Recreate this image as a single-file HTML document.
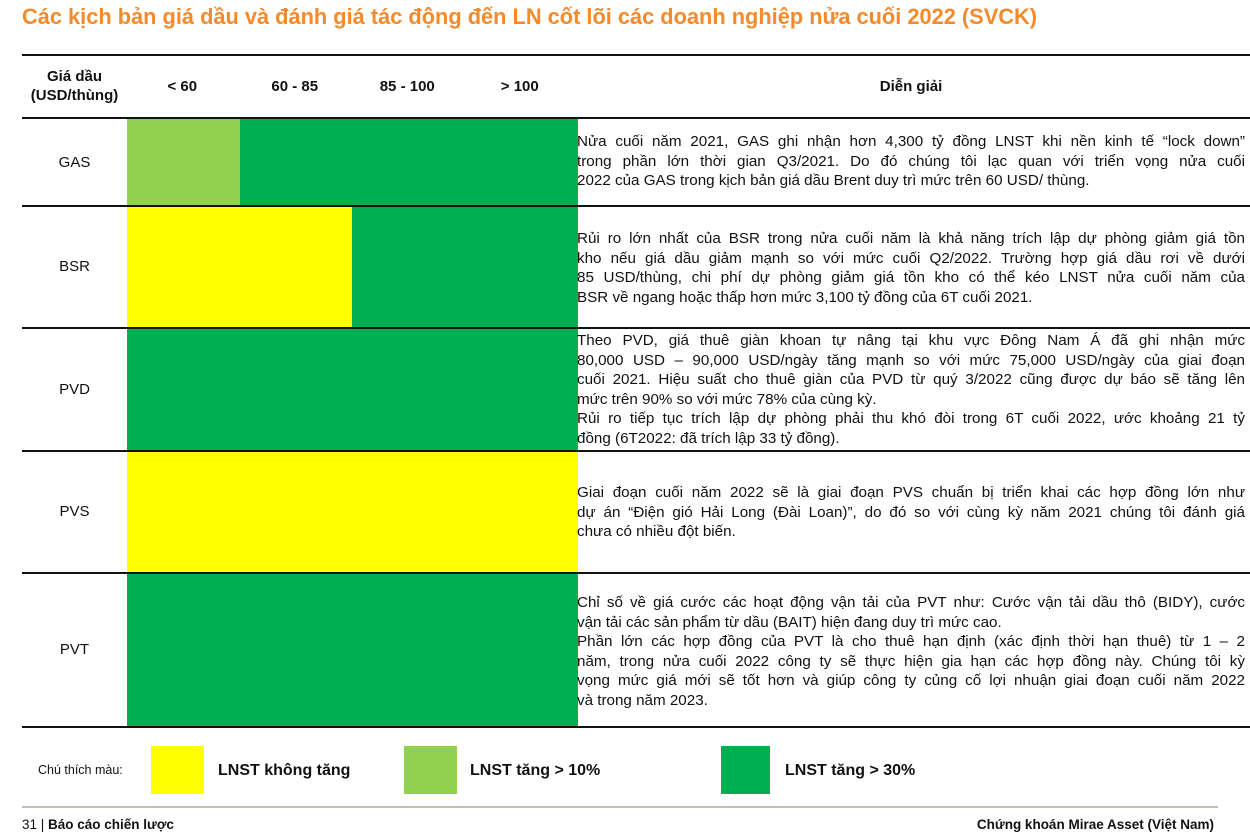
<!DOCTYPE html>
<html><head><meta charset="utf-8">
<style>
body{margin:0;width:1250px;height:826px;background:#fff;position:relative;overflow:hidden;font-family:"Liberation Sans",sans-serif;color:#111}
.abs{position:absolute}
.title{left:22px;top:4px;font-size:21.8px;font-weight:bold;color:#f58a2c;white-space:nowrap}
.hl{position:absolute;left:22px;width:1228px;background:#111}
.hdr{position:absolute;font-weight:bold;font-size:15px;text-align:center;line-height:19px}
.lbl{position:absolute;left:22px;width:105px;text-align:center;font-size:15px}
.desc{position:absolute;left:577px;width:668px;font-size:15.2px;line-height:19.5px}
.desc div{text-align:justify;text-align-last:justify;white-space:nowrap;overflow:visible}
.desc div.l{text-align-last:left}
.cell{position:absolute}
.leg{position:absolute;font-weight:bold;font-size:16px}
</style></head><body>
<div class="abs title">Các kịch bản giá dầu và đánh giá tác động đến LN cốt lõi các doanh nghiệp nửa cuối 2022 (SVCK)</div>

<div id="cells"></div>

<div class="hl" style="top:54px;height:2px"></div>
<div class="hl" style="top:117px;height:2px"></div>
<div class="hl" style="top:205px;height:1.5px"></div>
<div class="hl" style="top:327px;height:1.5px"></div>
<div class="hl" style="top:450px;height:1.5px"></div>
<div class="hl" style="top:572px;height:1.5px"></div>
<div class="hl" style="top:726px;height:2px"></div>

<div class="hdr" style="left:22px;width:105px;top:67px">Giá dầu<br>(USD/thùng)</div>
<div id="colhdrs"></div>
<div class="hdr" style="left:577px;width:668px;top:77px">Diễn giải</div>

<div id="rowlbls"></div>

<div class="desc" style="top:132px">
<div>Nửa cuối năm 2021, GAS ghi nhận hơn 4,300 tỷ đồng LNST khi nền kinh tế “lock down”</div>
<div>trong phần lớn thời gian Q3/2021. Do đó chúng tôi lạc quan với triển vọng nửa cuối</div>
<div class="l">2022 của GAS trong kịch bản giá dầu Brent duy trì mức trên 60 USD/ thùng.</div>
</div>
<div class="desc" style="top:229px">
<div>Rủi ro lớn nhất của BSR trong nửa cuối năm là khả năng trích lập dự phòng giảm giá tồn</div>
<div>kho nếu giá dầu giảm mạnh so với mức cuối Q2/2022. Trường hợp giá dầu rơi về dưới</div>
<div>85 USD/thùng, chi phí dự phòng giảm giá tồn kho có thể kéo LNST nửa cuối năm của</div>
<div class="l">BSR về ngang hoặc thấp hơn mức 3,100 tỷ đồng của 6T cuối 2021.</div>
</div>
<div class="desc" style="top:331px">
<div>Theo PVD, giá thuê giàn khoan tự nâng tại khu vực Đông Nam Á đã ghi nhận mức</div>
<div>80,000 USD – 90,000 USD/ngày tăng mạnh so với mức 75,000 USD/ngày của giai đoạn</div>
<div>cuối 2021. Hiệu suất cho thuê giàn của PVD từ quý 3/2022 cũng được dự báo sẽ tăng lên</div>
<div class="l">mức trên 90% so với mức 78% của cùng kỳ.</div>
<div>Rủi ro tiếp tục trích lập dự phòng phải thu khó đòi trong 6T cuối 2022, ước khoảng 21 tỷ</div>
<div class="l">đồng (6T2022: đã trích lập 33 tỷ đồng).</div>
</div>
<div class="desc" style="top:483px">
<div>Giai đoạn cuối năm 2022 sẽ là giai đoạn PVS chuẩn bị triển khai các hợp đồng lớn như</div>
<div>dự án “Điện gió Hải Long (Đài Loan)”, do đó so với cùng kỳ năm 2021 chúng tôi đánh giá</div>
<div class="l">chưa có nhiều đột biến.</div>
</div>
<div class="desc" style="top:593px">
<div>Chỉ số về giá cước các hoạt động vận tải của PVT như: Cước vận tải dầu thô (BIDY), cước</div>
<div class="l">vận tải các sản phẩm từ dầu (BAIT) hiện đang duy trì mức cao.</div>
<div>Phần lớn các hợp đồng của PVT là cho thuê hạn định (xác định thời hạn thuê) từ 1 – 2</div>
<div>năm, trong nửa cuối 2022 công ty sẽ thực hiện gia hạn các hợp đồng này. Chúng tôi kỳ</div>
<div>vọng mức giá mới sẽ tốt hơn và giúp công ty củng cố lợi nhuận giai đoạn cuối năm 2022</div>
<div class="l">và trong năm 2023.</div>
</div>

<div class="abs" style="left:38px;top:763px;font-size:12.5px">Chú thích màu:</div>
<div class="abs" style="left:151px;top:746px;width:53px;height:48px;background:#ffff00"></div>
<div class="leg" style="left:218px;top:762px">LNST không tăng</div>
<div class="abs" style="left:404px;top:746px;width:53px;height:48px;background:#92d050"></div>
<div class="leg" style="left:470px;top:762px">LNST tăng &gt; 10%</div>
<div class="abs" style="left:721px;top:746px;width:49px;height:48px;background:#00b050"></div>
<div class="leg" style="left:785px;top:762px">LNST tăng &gt; 30%</div>

<div class="abs" style="left:22px;top:806px;width:1196px;height:2px;background:#c9bcae"></div>
<div class="abs" style="left:22px;top:817px;font-size:13.5px">31 | <b>Báo cáo chiến lược</b></div>
<div class="abs" style="left:900px;top:817px;font-size:13.5px;font-weight:bold;width:314px;text-align:right">Chứng khoán Mirae Asset (Việt Nam)</div>

<script>
const categories = ["< 60", "60 - 85", "85 - 100", "> 100"];
const companies = ["GAS", "BSR", "PVD", "PVS", "PVT"];
// 0 = LNST không tăng, 1 = tăng >10%, 2 = tăng >30%
const gasLevels = [1, 2, 2, 2];
const bsrLevels = [0, 0, 2, 2];
const pvdLevels = [2, 2, 2, 2];
const pvsLevels = [0, 0, 0, 0];
const pvtLevels = [2, 2, 2, 2];
const levelColors = ["#ffff00", "#92d050", "#00b050"];

const colX0 = 127, colW = 112.5;
const rowTops = [119, 206, 328, 451, 573, 727];
function xScale(i){ return colX0 + i * colW; }

const allLevels = [gasLevels, bsrLevels, pvdLevels, pvsLevels, pvtLevels];
const cells = document.getElementById('cells');
allLevels.forEach((row, r) => {
  row.forEach((lv, c) => {
    const d = document.createElement('div');
    d.className = 'cell';
    
    
    d.style.left = xScale(c) + 'px';
    d.style.width = (colW + 0.5) + 'px';
    d.style.top = rowTops[r] + 'px';
    d.style.height = (rowTops[r + 1] - rowTops[r]) + 'px';
    d.style.background = levelColors[lv];
    cells.appendChild(d);
  });
});
const ch = document.getElementById('colhdrs');
categories.forEach((t, i) => {
  const d = document.createElement('div');
  d.className = 'hdr';
  
  
  d.style.left = (xScale(i) - 1) + 'px';
  d.style.width = colW + 'px';
  d.style.top = '77px';
  d.textContent = t;
  ch.appendChild(d);
});
const rl = document.getElementById('rowlbls');
companies.forEach((t, r) => {
  const d = document.createElement('div');
  d.className = 'lbl';
  
  
  d.style.top = ((rowTops[r] + rowTops[r + 1]) / 2 - 9) + 'px';
  d.textContent = t;
  rl.appendChild(d);
});
</script>
</body></html>
